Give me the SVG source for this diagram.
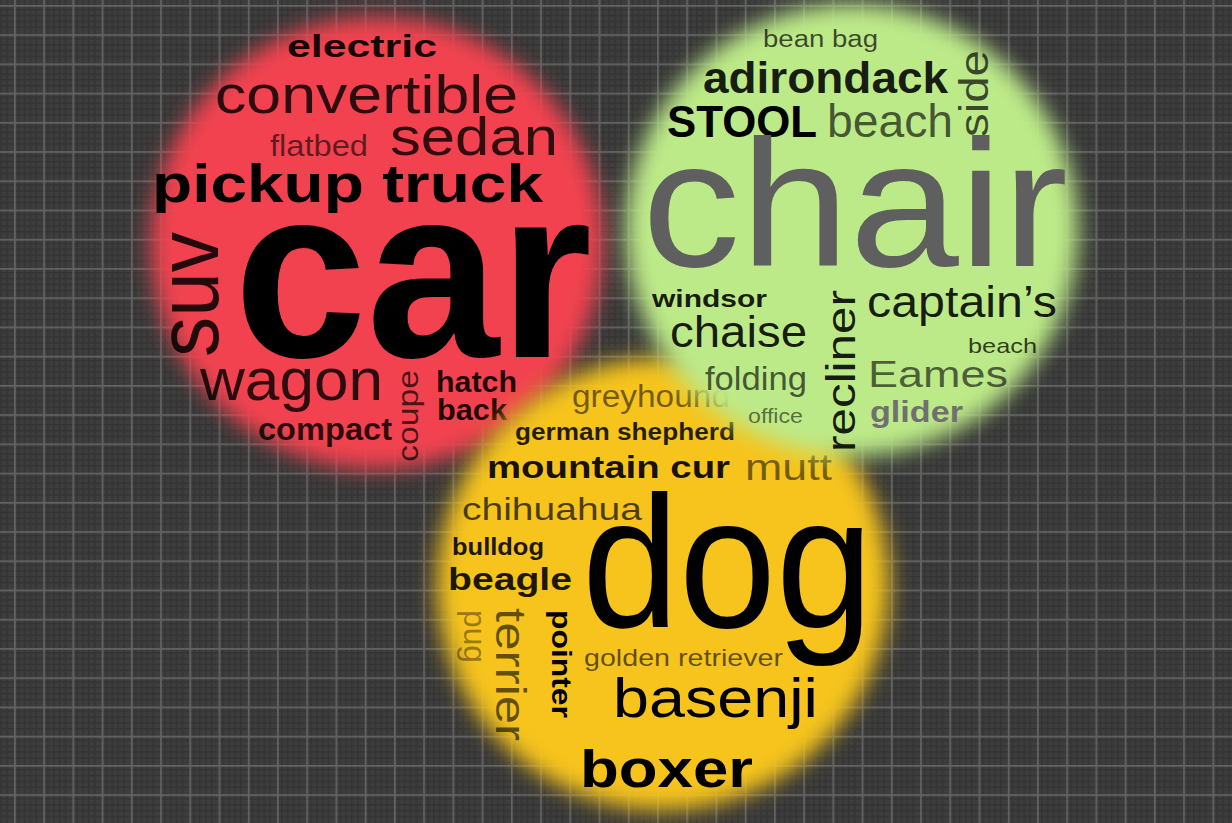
<svg xmlns="http://www.w3.org/2000/svg" width="1232" height="823" viewBox="0 0 1232 823">
<defs>
  <pattern id="grid" x="14" y="5" width="29.23" height="29.23" patternUnits="userSpaceOnUse">
    <rect width="29.23" height="29.23" fill="#3d3d3d"/>
    <g fill="#333333">
      <rect x="4" y="0" width="1.4" height="29.23"/>
      <rect x="9.8" y="0" width="1.4" height="29.23"/>
      <rect x="15.7" y="0" width="1.4" height="29.23"/>
      <rect x="21.5" y="0" width="1.4" height="29.23"/>
      <rect x="0" y="4" width="29.23" height="1.4"/>
      <rect x="0" y="9.8" width="29.23" height="1.4"/>
      <rect x="0" y="15.7" width="29.23" height="1.4"/>
      <rect x="0" y="21.5" width="29.23" height="1.4"/>
    </g>
    <g fill="#636363">
      <rect x="0" y="0" width="1.7" height="29.23"/>
      <rect x="0" y="0" width="29.23" height="1.7"/>
    </g>
  </pattern>
  <filter id="soft" x="-20%" y="-20%" width="140%" height="140%">
    <feGaussianBlur stdDeviation="11"/>
  </filter>
  <style>
    text { font-family: "Liberation Sans", Arial, Helvetica, sans-serif; fill: #000; }
    .b { font-weight: bold; }
  </style>
</defs>

<rect id="background" width="1232" height="823" fill="url(#grid)"/>

<g id="cars">
  <circle cx="377" cy="243" r="226" fill="#f2434f" filter="url(#soft)"/>
  <text class="b" x="287" y="57" font-size="31" textLength="150" lengthAdjust="spacingAndGlyphs" fill-opacity="0.92">electric</text>
  <text x="215" y="113" font-size="53" textLength="303" lengthAdjust="spacingAndGlyphs" fill-opacity="0.82">convertible</text>
  <text x="270" y="156" font-size="30" textLength="98" lengthAdjust="spacingAndGlyphs" fill-opacity="0.6">flatbed</text>
  <text x="390" y="155" font-size="53" textLength="168" lengthAdjust="spacingAndGlyphs" fill-opacity="0.8">sedan</text>
  <text class="b" x="152" y="202" font-size="54" textLength="391" lengthAdjust="spacingAndGlyphs">pickup truck</text>
  <text class="b" x="234" y="357" font-size="245" textLength="358" lengthAdjust="spacingAndGlyphs">car</text>
  <text transform="translate(218,357) rotate(-90)" font-size="88" textLength="125" lengthAdjust="spacingAndGlyphs" fill-opacity="0.85">suv</text>
  <text x="200" y="400" font-size="60" textLength="183" lengthAdjust="spacingAndGlyphs" fill-opacity="0.82">wagon</text>
  <text transform="translate(418,462) rotate(-90)" font-size="30" textLength="92" lengthAdjust="spacingAndGlyphs" fill-opacity="0.7">coupe</text>
  <text class="b" x="436" y="392" font-size="30" textLength="81" lengthAdjust="spacingAndGlyphs" fill-opacity="0.88">hatch</text>
  <text class="b" x="437" y="420" font-size="30" textLength="70" lengthAdjust="spacingAndGlyphs" fill-opacity="0.88">back</text>
  <text class="b" x="258" y="440" font-size="31" textLength="134" lengthAdjust="spacingAndGlyphs" fill-opacity="0.82">compact</text>
</g>

<g id="dogs">
  <circle cx="663" cy="584" r="226" fill="#f6c41c" filter="url(#soft)"/>
  <text x="572" y="407" font-size="31" textLength="158" lengthAdjust="spacingAndGlyphs" fill-opacity="0.55">greyhound</text>
  <text class="b" x="515" y="440" font-size="23" textLength="220" lengthAdjust="spacingAndGlyphs" fill-opacity="0.85">german shepherd</text>
  <text class="b" x="487" y="478" font-size="31" textLength="243" lengthAdjust="spacingAndGlyphs" fill-opacity="0.92">mountain cur</text>
  <text x="745" y="480" font-size="37" textLength="87" lengthAdjust="spacingAndGlyphs" fill-opacity="0.55">mutt</text>
  <text x="462" y="520" font-size="32" textLength="180" lengthAdjust="spacingAndGlyphs" fill-opacity="0.7">chihuahua</text>
  <text class="b" x="452" y="555" font-size="24" textLength="92" lengthAdjust="spacingAndGlyphs" fill-opacity="0.9">bulldog</text>
  <text class="b" x="448" y="590" font-size="32" textLength="124" lengthAdjust="spacingAndGlyphs" fill-opacity="0.9">beagle</text>
  <text x="582" y="627" font-size="188" textLength="291" lengthAdjust="spacingAndGlyphs">dog</text>
  <text transform="translate(464,610) rotate(90)" font-size="31" textLength="53" lengthAdjust="spacingAndGlyphs" fill-opacity="0.4">pug</text>
  <text transform="translate(496,608) rotate(90)" font-size="42" textLength="133" lengthAdjust="spacingAndGlyphs" fill-opacity="0.6">terrier</text>
  <text class="b" transform="translate(552,610) rotate(90)" font-size="28" textLength="108" lengthAdjust="spacingAndGlyphs">pointer</text>
  <text x="584" y="666" font-size="24" textLength="199" lengthAdjust="spacingAndGlyphs" fill-opacity="0.62">golden retriever</text>
  <text x="613" y="717" font-size="55" textLength="205" lengthAdjust="spacingAndGlyphs">basenji</text>
  <text class="b" x="580" y="787" font-size="51" textLength="173" lengthAdjust="spacingAndGlyphs">boxer</text>
</g>

<g id="chairs">
  <circle cx="852" cy="230" r="226" fill="#bdea88" filter="url(#soft)"/>
  <text x="763" y="47" font-size="23" textLength="115" lengthAdjust="spacingAndGlyphs" fill-opacity="0.7">bean bag</text>
  <text class="b" x="703" y="93" font-size="45" textLength="245" lengthAdjust="spacingAndGlyphs" fill-opacity="0.88">adirondack</text>
  <text class="b" x="667" y="137" font-size="44" textLength="150" lengthAdjust="spacingAndGlyphs">STOOL</text>
  <text x="827" y="137" font-size="47" textLength="126" lengthAdjust="spacingAndGlyphs" fill-opacity="0.65">beach</text>
  <text transform="translate(988,137) rotate(-90)" font-size="40" textLength="87" lengthAdjust="spacingAndGlyphs" fill-opacity="0.7">side</text>
  <text x="642" y="266" font-size="180" textLength="426" lengthAdjust="spacingAndGlyphs" style="fill:#5f5f5f">chair</text>
  <text class="b" x="652" y="307" font-size="24" textLength="115" lengthAdjust="spacingAndGlyphs" fill-opacity="0.9">windsor</text>
  <text x="670" y="347" font-size="44" textLength="137" lengthAdjust="spacingAndGlyphs" fill-opacity="0.9">chaise</text>
  <text x="705" y="390" font-size="34" textLength="102" lengthAdjust="spacingAndGlyphs" fill-opacity="0.65">folding</text>
  <text x="748" y="423" font-size="21" textLength="55" lengthAdjust="spacingAndGlyphs" fill-opacity="0.55">office</text>
  <text transform="translate(855,452) rotate(-90)" font-size="41" textLength="162" lengthAdjust="spacingAndGlyphs" fill-opacity="0.9">recliner</text>
  <text x="867" y="317" font-size="44" textLength="190" lengthAdjust="spacingAndGlyphs" fill-opacity="0.88">captain’s</text>
  <text x="968" y="353" font-size="21" textLength="69" lengthAdjust="spacingAndGlyphs" fill-opacity="0.75">beach</text>
  <text x="868" y="387" font-size="37" textLength="140" lengthAdjust="spacingAndGlyphs" fill-opacity="0.6">Eames</text>
  <text class="b" x="870" y="422" font-size="30" textLength="93" lengthAdjust="spacingAndGlyphs" style="fill:#707070">glider</text>
</g>
</svg>
